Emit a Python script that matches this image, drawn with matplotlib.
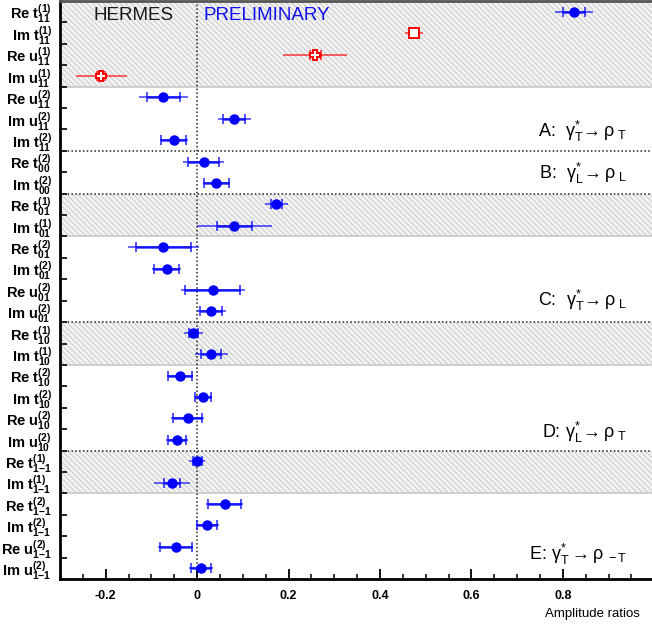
import numpy as np
import matplotlib
matplotlib.use('Agg')
import matplotlib.pyplot as plt
from matplotlib.ticker import MultipleLocator, FixedLocator

plt.rcParams['font.family'] = ['Liberation Sans', 'DejaVu Sans']
plt.rcParams['mathtext.fontset'] = 'custom'
plt.rcParams['mathtext.rm'] = 'Liberation Sans'
plt.rcParams['mathtext.bf'] = 'Liberation Sans:bold'
plt.rcParams['mathtext.it'] = 'Liberation Sans:italic'
plt.rcParams['mathtext.default'] = 'regular'
plt.rcParams['hatch.linewidth'] = 0.6

# amplitude ratio names: (Re/Im, letter, subscript, superscript)
names = [
    ('Re', 't', '11', '1'), ('Im', 't', '11', '1'), ('Re', 'u', '11', '1'), ('Im', 'u', '11', '1'),
    ('Re', 'u', '11', '2'), ('Im', 'u', '11', '2'), ('Im', 't', '11', '2'),
    ('Re', 't', '00', '2'), ('Im', 't', '00', '2'),
    ('Re', 't', '01', '1'), ('Im', 't', '01', '1'),
    ('Re', 't', '01', '2'), ('Im', 't', '01', '2'), ('Re', 'u', '01', '2'), ('Im', 'u', '01', '2'),
    ('Re', 't', '10', '1'), ('Im', 't', '10', '1'),
    ('Re', 't', '10', '2'), ('Im', 't', '10', '2'), ('Re', 'u', '10', '2'), ('Im', 'u', '10', '2'),
    ('Re', 't', '1{-}1', '1'), ('Im', 't', '1{-}1', '1'),
    ('Re', 't', '1{-}1', '2'), ('Im', 't', '1{-}1', '2'), ('Re', 'u', '1{-}1', '2'), ('Im', 'u', '1{-}1', '2'),
]
values = [0.825, 0.474, 0.258, -0.210,
          -0.074, 0.081, -0.051,
          0.014, 0.042,
          0.173, 0.081,
          -0.074, -0.067, 0.034, 0.031,
          -0.008, 0.031,
          -0.037, 0.013, -0.021, -0.044,
          0.000, -0.055,
          0.060, 0.022, -0.047, 0.008]
stat_err = [0.024, 0.008, 0.012, 0.008,
            0.036, 0.024, 0.027,
            0.033, 0.027,
            0.012, 0.038,
            0.060, 0.027, 0.060, 0.024,
            0.010, 0.022,
            0.026, 0.017, 0.032, 0.020,
            0.010, 0.018,
            0.037, 0.022, 0.035, 0.022]
tot_err = [0.042, 0.020, 0.070, 0.056,
           0.053, 0.036, 0.031,
           0.045, 0.030,
           0.025, 0.082,
           0.078, 0.032, 0.070, 0.032,
           0.020, 0.036,
           0.029, 0.020, 0.037, 0.025,
           0.018, 0.040,
           0.040, 0.025, 0.038, 0.026]
# marker style per row: 'b' blue dot, 'rs' red open square, 'rp' red open cross
styles = ['b', 'rs', 'rp', 'rp'] + ['b'] * 23

shaded = [(-0.5, 3.5), (8.5, 10.5), (14.5, 16.5), (20.5, 22.5)]
group_lines = [6.5, 8.5, 14.5, 20.5]
groups = [
    (5.6, r'A:  $\gamma^{*}_{T}\!\rightarrow \rho_{\ T}$'),
    (7.55, r'B:  $\gamma^{*}_{L}\!\rightarrow \rho_{\ L}$'),
    (13.5, r'C:  $\gamma^{*}_{T}\!\rightarrow \rho_{\ L}$'),
    (19.65, r'D: $\gamma^{*}_{L}\!\rightarrow \rho_{\ T}$'),
    (25.35, r'E: $\gamma^{*}_{T}\rightarrow \rho_{\ -T}$'),
]


def label(n):
    return r'%s $\mathbf{%s}_{\mathbf{%s}}^{\mathbf{(%s)}}$' % n


fig = plt.figure(figsize=(6.52, 6.26), dpi=100)
ax = fig.add_axes([60 / 652, 1 - 579 / 626, 1 - 60 / 652, 578 / 626])

rows = np.arange(len(values))
ax.set_ylim(len(values) - 0.5, -0.5)
ax.set_xlim(-0.3, 0.995)

for lo, hi in shaded:
    ax.axhspan(lo, hi, facecolor='#f2f2f2', edgecolor='#c4c4c4', hatch='\\\\\\\\\\\\', lw=0, zorder=0)
    ax.axhline(hi, color='#c8c8c8', lw=1.2, zorder=1)
for y in group_lines:
    ax.axhline(y, color='#222222', lw=1.1, ls=(0, (1, 1.5)), zorder=2)
ax.axvline(0, color='#222222', lw=1.1, ls=(0, (1, 1.5)), zorder=2)

for i in rows:
    v, s, t, st = values[i], stat_err[i], tot_err[i], styles[i]
    col = 'blue' if st == 'b' else 'red'
    ax.errorbar(v, i, xerr=t, fmt='none', ecolor=col, elinewidth=1.2, alpha=0.7, zorder=3)
    ax.errorbar(v, i, xerr=s, fmt='none', ecolor=col, elinewidth=1.8, capsize=3.6, capthick=1.2,
                alpha=0.8, zorder=4)
    if st == 'b':
        ax.plot(v, i, 'o', color='blue', ms=6.5, zorder=5)
    elif st == 'rs':
        ax.plot(v, i, 's', mfc='white', mec='red', mew=1.4, ms=6.5, zorder=5)
    else:
        ax.plot(v, i, 'P', mfc='white', mec='red', mew=1.4, ms=7, zorder=5)

for y, txt in groups:
    ax.text(0.94, y, txt, ha='right', va='center', fontsize=13)

ax.text(-0.227, 0.2, 'HERMES', ha='left', va='center', fontsize=13.5, color='#1a1a1a')
ax.text(0.013, 0.2, 'PRELIMINARY', ha='left', va='center', fontsize=13.5, color='#1010ee')

ax.yaxis.set_major_locator(FixedLocator(rows))
ax.set_yticklabels([label(n) for n in names], fontweight='bold', fontsize=10.5)
ax.yaxis.set_minor_locator(FixedLocator(np.arange(0.5, len(values) - 1, 1.0)))
ax.tick_params(axis='y', which='major', length=0, pad=6)
ax.tick_params(axis='y', which='minor', direction='in', length=5, width=1.2)

ax.xaxis.set_major_locator(MultipleLocator(0.2))
ax.xaxis.set_minor_locator(MultipleLocator(0.05))
ax.tick_params(axis='x', which='major', direction='in', length=7, width=1.3, pad=8, labelsize=9)
ax.tick_params(axis='x', which='minor', direction='in', length=3.5, width=1.1)
ax.set_xticks([-0.2, 0, 0.2, 0.4, 0.6, 0.8])
ax.set_xticklabels(['-0.2', '0', '0.2', '0.4', '0.6', '0.8'], fontweight='bold')

ax.spines['right'].set_visible(False)
ax.spines['left'].set_linewidth(2)
ax.spines['bottom'].set_linewidth(2)
ax.spines['top'].set_linewidth(2)
ax.spines['top'].set_color('#555555')

fig.text(640 / 652, 1 - 614 / 626, 'Amplitude ratios', ha='right', va='center', fontsize=9.5)

fig.savefig('out.png', dpi=100)
